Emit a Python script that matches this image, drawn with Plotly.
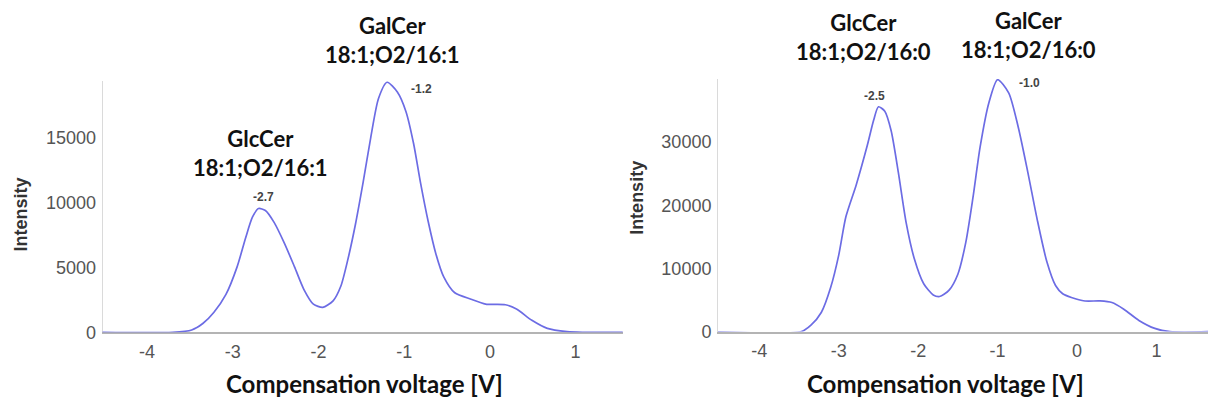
import plotly.graph_objects as go

# Compensation-voltage scans (CV in volts, intensity in counts)
cv_16_1 = [-4.6, -3.7, -3.48, -3.35, -3.22, -3.08, -2.95, -2.85, -2.77, -2.7, -2.62,
           -2.52, -2.40, -2.28, -2.17, -2.06, -1.95, -1.83, -1.74, -1.66, -1.57,
           -1.48, -1.39, -1.30, -1.2, -1.08, -0.98, -0.89, -0.81, -0.72, -0.63,
           -0.54, -0.41, -0.22, -0.05, 0.18, 0.31, 0.49, 0.67, 0.90, 1.08, 1.6]
int_16_1 = [0, 0, 175, 675, 1550, 2925, 5050, 7300, 8900, 9550, 9400,
            8500, 6900, 5050, 3300, 2175, 1925, 2425, 3550, 5550, 8300,
            11550, 15050, 18050, 19300, 18550, 17050, 14550, 11550, 8550, 6050,
            4300, 3050, 2550, 2175, 2125, 1800, 925, 300, 50, 0, 0]

cv_16_0 = [-4.6, -3.47, -3.35, -3.22, -3.10, -3.00, -2.91, -2.78, -2.64, -2.56, -2.5,
           -2.42, -2.34, -2.25, -2.15, -2.05, -1.93, -1.81, -1.73, -1.61, -1.50,
           -1.40, -1.31, -1.22, -1.11, -1.0, -0.86, -0.74, -0.62, -0.50, -0.38,
           -0.27, -0.18, -0.07, 0.10, 0.29, 0.44, 0.59, 0.78, 0.98, 1.17, 1.7]
int_16_0 = [0, 0, 1010, 3030, 7070, 12120, 18180, 23230, 29500, 33500, 35600,
            34900, 31800, 25250, 17170, 11620, 7580, 5810, 5560, 6570, 9090,
            14140, 21210, 29200, 36200, 39900, 37800, 32400, 25300, 17700, 11100,
            7300, 6000, 5400, 4850, 4850, 4600, 3540, 1770, 510, 0, 0]

# Apex positions quoted above each peak
peaks_16_1 = [(-2.7, 9550, "-2.7"), (-1.2, 19300, "-1.2")]
peaks_16_0 = [(-2.5, 35600, "-2.5"), (-1.0, 39900, "-1.0")]

species_16_1 = [(-2.68, "GlcCer<br>18:1;O2/16:1", 0.612), (-1.14, "GalCer<br>18:1;O2/16:1", 0.899)]
species_16_0 = [(-2.69, "GlcCer<br>18:1;O2/16:0", 0.907), (-0.61, "GalCer<br>18:1;O2/16:0", 0.911)]

x_ticks = [-4, -3, -2, -1, 0, 1]
y_ticks_16_1 = [0, 5000, 10000, 15000]
y_ticks_16_0 = [0, 10000, 20000, 30000]

LINE = "rgb(108,108,228)"
TICK_FONT = dict(family="Liberation Sans, Arial", size=18, color="#555555")
LABEL_FONT = dict(family="Lato, Noto Sans", size=22, color="#111111")

fig = go.Figure()
fig.add_trace(go.Scatter(x=cv_16_1, y=int_16_1, mode="lines", xaxis="x", yaxis="y",
                         line=dict(color=LINE, width=1.7, shape="spline", smoothing=0.7),
                         showlegend=False))
fig.add_trace(go.Scatter(x=cv_16_0, y=int_16_0, mode="lines", xaxis="x2", yaxis="y2",
                         line=dict(color=LINE, width=1.7, shape="spline", smoothing=0.7),
                         showlegend=False))

xcommon = dict(showgrid=False, zeroline=False, showline=True, linecolor="#b4b4b4",
               linewidth=1.5, ticks="", tickfont=TICK_FONT, tickvals=x_ticks,
               ticktext=[str(t) for t in x_ticks], layer="below traces", ticklabelstandoff=2)
ycommon = dict(showgrid=False, zeroline=False, showline=True, linecolor="#dadada",
               linewidth=1, ticks="", tickfont=TICK_FONT, layer="below traces",
               ticklabelstandoff=2)

fig.update_layout(
    width=1208, height=405,
    margin=dict(l=0, r=0, t=0, b=0),
    paper_bgcolor="white", plot_bgcolor="white",
    xaxis=dict(domain=[0.0849, 0.5155], range=[-4.52, 1.55], anchor="y", **xcommon),
    yaxis=dict(domain=[0.1588, 0.795], range=[0, 19400], anchor="x",
               tickvals=y_ticks_16_1, ticktext=[str(t) for t in y_ticks_16_1], **ycommon),
    xaxis2=dict(domain=[0.5944, 1.0], range=[-4.52, 1.65], anchor="y2", **xcommon),
    yaxis2=dict(domain=[0.1605, 0.800], range=[0, 40000], anchor="x2",
                tickvals=y_ticks_16_0, ticktext=[str(t) for t in y_ticks_16_0], **ycommon),
)

ann = []
# species labels over the peaks
for xr, items in (("x", species_16_1), ("x2", species_16_0)):
    for cx, txt, py in items:
        ann.append(dict(x=cx, y=py, xref=xr, yref="paper", text="<b>" + txt + "</b>",
                        showarrow=False, font=LABEL_FONT, align="center",
                        xanchor="center", yanchor="middle"))

# apex CV values
shifts_16_1 = [(5, 12), (34, -7)]
shifts_16_0 = [(-4, 11), (32, -3)]
for xr, yr, peaks, shifts in (("x", "y", peaks_16_1, shifts_16_1),
                              ("x2", "y2", peaks_16_0, shifts_16_0)):
    for (px, py, txt), (dx, dy) in zip(peaks, shifts):
        ann.append(dict(x=px, y=py, xref=xr, yref=yr, text="<b>" + txt + "</b>",
                        showarrow=False, xshift=dx, yshift=dy,
                        font=dict(family="Liberation Sans, Arial", size=12, color="#444444"),
                        xanchor="center", yanchor="middle"))

# axis titles
for x, y in ((0.0174, 0.457), (0.5273, 0.499)):
    ann.append(dict(x=x, y=y, xref="paper", yref="paper", text="<b>Intensity</b>",
                    textangle=-90, showarrow=False,
                    font=dict(family="Liberation Sans, Arial", size=18, color="#333333"),
                    xanchor="center", yanchor="middle"))
for x in (0.302, 0.783):
    ann.append(dict(x=x, y=0.03, xref="paper", yref="paper",
                    text="<b>Compensation voltage [V]</b>", showarrow=False,
                    font=dict(family="Lato, Noto Sans", size=24, color="#111111"),
                    xanchor="center", yanchor="middle"))

fig.update_layout(annotations=ann)
fig.write_html("out.html")
